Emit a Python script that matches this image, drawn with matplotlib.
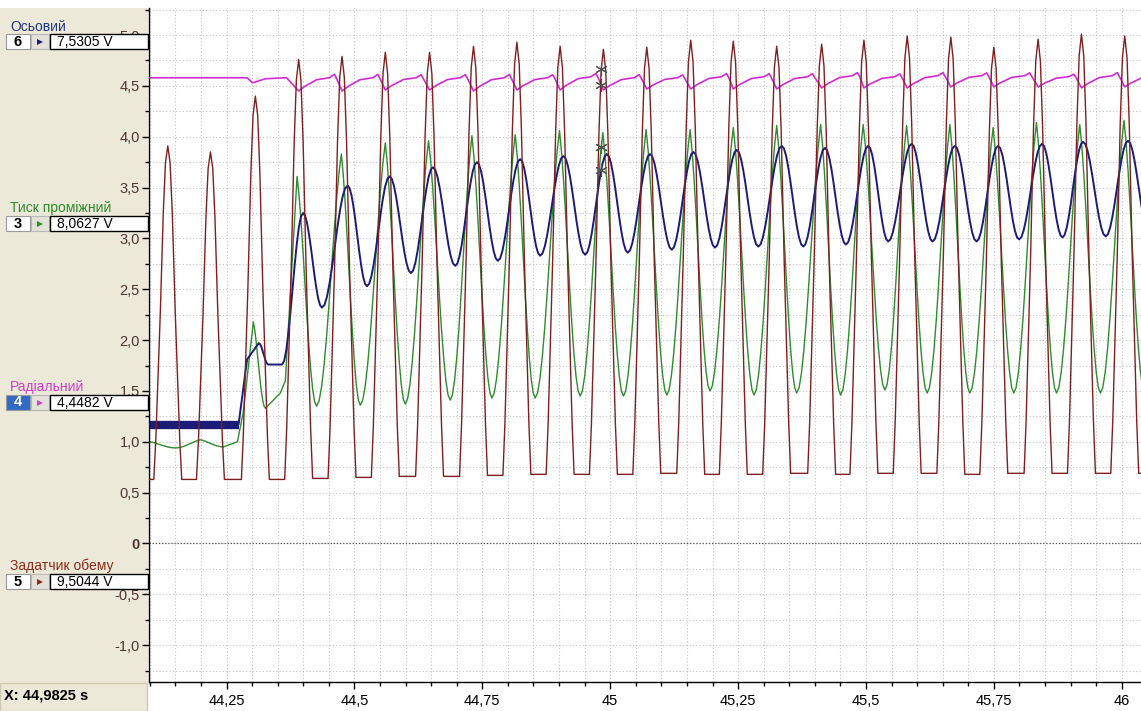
import numpy as np
import matplotlib
matplotlib.use('Agg')
import matplotlib.pyplot as plt
from matplotlib.patches import Rectangle

plt.rcParams['font.family'] = ['Liberation Sans', 'DejaVu Sans']

# Задатчик обему (brown): pulse peaks, and the flat floor before/after each pulse
brown_peak_t = [44.1352, 44.2186, 44.3064, 44.3910, 44.4758, 44.5604, 44.6469,
                44.7328, 44.8176, 44.9021, 44.9867, 45.0715, 45.1574, 45.2406,
                45.3254, 45.4133, 45.4959, 45.5805, 45.6658, 45.7498, 45.8363,
                45.9211, 46.0057]
brown_peak_v = [3.91, 3.85, 4.40, 4.76, 4.79, 4.83, 4.83, 4.89, 4.93, 4.89,
                4.86, 4.88, 4.95, 4.94, 4.89, 4.91, 4.95, 4.99, 4.98, 4.88,
                4.96, 5.01, 4.99]
brown_floor_v = [0.63, 0.63, 0.63, 0.63, 0.64, 0.65, 0.66, 0.66, 0.67, 0.68,
                 0.68, 0.68, 0.69, 0.68, 0.68, 0.69, 0.68, 0.69, 0.69, 0.68,
                 0.69, 0.69, 0.69, 0.69]

# Тиск проміжний (green): turning points
green_t = [44.1000, 44.1502, 44.1990, 44.2439, 44.2713, 44.2830, 44.3025,
           44.3260, 44.3553, 44.3650, 44.3879, 44.4260, 44.4744, 44.5115,
           44.5604, 44.5994, 44.6449, 44.6873, 44.7297, 44.7688, 44.8143,
           44.8533, 44.9008, 44.9412, 44.9856, 45.0258, 45.0701, 45.1106,
           45.1561, 45.1951, 45.2406, 45.2811, 45.3254, 45.3645, 45.4113,
           45.4504, 45.4945, 45.5369, 45.5793, 45.6195, 45.6639, 45.7029,
           45.7484, 45.7889, 45.8332, 45.8723, 45.9178, 45.9582, 46.0043,
           46.0447]
green_v = [1.00, 0.94, 1.02, 0.95, 1.00, 1.30, 2.18, 1.33, 1.48, 1.60,
           3.61, 1.35, 3.83, 1.36, 3.94, 1.37, 3.96, 1.41, 4.01, 1.43,
           4.02, 1.43, 4.06, 1.45, 4.04, 1.45, 4.07, 1.46, 4.07, 1.50,
           4.09, 1.46, 4.11, 1.48, 4.12, 1.46, 4.12, 1.51, 4.11, 1.48,
           4.12, 1.48, 4.09, 1.48, 4.14, 1.48, 4.12, 1.48, 4.16, 1.48]

# Осьовий (dark blue): turning points
blue_t = [44.1000, 44.2736, 44.2902, 44.3129, 44.3318, 44.3586, 44.3996,
          44.4367, 44.4867, 44.5246, 44.5688, 44.6105, 44.6535, 44.6971,
          44.7395, 44.7805, 44.8240, 44.8631, 44.9086, 44.9510, 44.9934,
          45.0344, 45.0779, 45.1203, 45.1625, 45.2049, 45.2473, 45.2895,
          45.3352, 45.3773, 45.4197, 45.4607, 45.5043, 45.5434, 45.5891,
          45.6301, 45.6736, 45.7160, 45.7582, 45.7992, 45.8441, 45.8840,
          45.9242, 45.9686, 46.0121, 46.0545]
blue_v = [1.17, 1.17, 1.81, 1.97, 1.76, 1.76, 3.25, 2.32, 3.52, 2.53,
          3.61, 2.66, 3.70, 2.73, 3.75, 2.78, 3.78, 2.83, 3.81, 2.84,
          3.83, 2.86, 3.83, 2.89, 3.85, 2.91, 3.87, 2.92, 3.91, 2.92,
          3.89, 2.94, 3.91, 2.97, 3.93, 2.97, 3.91, 2.97, 3.91, 2.99,
          3.93, 3.01, 3.95, 3.02, 3.96, 3.02]

# Радіальний (magenta): steady part, then one dip per brown pulse (from 4th pulse)
mag_pre_t = [44.1000, 44.2900, 44.3010, 44.3260, 44.3674]
mag_pre_v = [4.58, 4.58, 4.53, 4.57, 4.58]
mag_min_v = [4.45, 4.45, 4.46, 4.46, 4.45, 4.46, 4.46, 4.46, 4.47, 4.47,
             4.47, 4.47, 4.48, 4.48, 4.48, 4.49, 4.49, 4.49, 4.48, 4.49]
mag_max_v = [4.58, 4.58, 4.58, 4.58, 4.58, 4.58, 4.59, 4.58, 4.58, 4.59,
             4.59, 4.59, 4.60, 4.59, 4.60, 4.60, 4.60, 4.59, 4.60, 4.60]

cursor_t = 44.9825

# left panel: name, channel number, readout
channels = [
    ('Осьовий', '6', '7,5305 V', '#22348a', '#1c1c78'),
    ('Тиск проміжний', '3', '8,0627 V', '#2e8b2e', '#2e8b2e'),
    ('Радіальний', '4', '4,4482 V', '#d23cd2', '#d23cd2'),
    ('Задатчик обему', '5', '9,5044 V', '#8b2b1b', '#8b2b1b'),
]

x_ticks = [44.25, 44.5, 44.75, 45.0, 45.25, 45.5, 45.75, 46.0]
x_labels = ['44,25', '44,5', '44,75', '45', '45,25', '45,5', '45,75', '46']
y_ticks = [-1.0, -0.5, 0.0, 0.5, 1.0, 1.5, 2.0, 2.5, 3.0, 3.5, 4.0, 4.5, 5.0]
y_labels = ['-1,0', '-0,5', '0', '0,5', '1,0', '1,5', '2,0', '2,5', '3,0',
            '3,5', '4,0', '4,5', '5,0']

# ---- waveform shapes ---------------------------------------------------------
PULSE_DT = [-0.0273, -0.0234, -0.0146, -0.0088, -0.0045, 0.0]
PULSE_F = [0.0, 0.12, 0.5, 0.8, 0.95, 1.0]
STEPS = np.linspace(0.1, 1.0, 10)
# going up into a peak: green has round troughs and sharper tops
GREEN_UP = [0.02, 0.075, 0.16, 0.27, 0.40, 0.54, 0.68, 0.81, 0.92, 1.0]
BLUE_UP = [0.024, 0.095, 0.206, 0.345, 0.5, 0.655, 0.794, 0.905, 0.976, 1.0]
MAG_DT = [0.0, 0.012, 0.035, 0.060, 0.070, 0.074]
MAG_F = [0.0, 0.35, 0.85, 1.0, 1.25, 0.95]


def pulse_path(pt, pv, floors):
    ts, vs = [pt[0] - 0.05], [floors[0]]
    for i in range(len(pt)):
        lo, hi = floors[i], floors[i + 1]
        for dt, f in zip(PULSE_DT, PULSE_F):
            ts.append(pt[i] + dt)
            vs.append(lo + f * (pv[i] - lo))
        for dt, f in zip(PULSE_DT[-2::-1], PULSE_F[-2::-1]):
            ts.append(pt[i] - dt)
            vs.append(hi + f * (pv[i] - hi))
    ts.append(pt[-1] + 0.06)
    vs.append(floors[-1])
    return np.array(ts), np.array(vs)


def smooth_path(t, v, up):
    up = np.array(up)
    down = 1.0 - np.concatenate([up[-2::-1], [0.0]])
    n = len(v)
    ext = [i == 0 or i == n - 1 or (v[i] - v[i - 1]) * (v[i + 1] - v[i]) <= 0
           for i in range(n)]
    ts, vs = [t[0]], [v[0]]
    for i in range(n - 1):
        if ext[i] and ext[i + 1]:
            prof = up if v[i + 1] > v[i] else down
            for a, f in zip(STEPS, prof):
                ts.append(t[i] + a * (t[i + 1] - t[i]))
                vs.append(v[i] + f * (v[i + 1] - v[i]))
        else:
            ts.append(t[i + 1])
            vs.append(v[i + 1])
    return np.array(ts), np.array(vs)


def magenta_path():
    ts, vs = list(mag_pre_t), list(mag_pre_v)
    dips = brown_peak_t[3:]
    for i, tm in enumerate(dips):
        for dt, f in zip(MAG_DT, MAG_F):
            ts.append(tm + dt)
            vs.append(mag_min_v[i] + f * (mag_max_v[i] - mag_min_v[i]))
    return np.array(ts), np.array(vs)


bt, bv = pulse_path(brown_peak_t, brown_peak_v, brown_floor_v)
gt, gv = smooth_path(green_t, green_v, GREEN_UP)
nt, nv = smooth_path(blue_t, blue_v, BLUE_UP)
mt, mv = magenta_path()

# ---- figure --------------------------------------------------------------------
W, H = 1141, 711
fig = plt.figure(figsize=(W / 100, H / 100), dpi=100)
fig.patch.set_facecolor('white')

ax_bg = fig.add_axes([0, 0, 1, 1])
ax_bg.set_xlim(0, W)
ax_bg.set_ylim(H, 0)
ax_bg.axis('off')
ax_bg.set_zorder(0)
ax_bg.add_patch(Rectangle((0, 8), 148, 675, facecolor='#ece9d8', edgecolor='none'))

x0, x1, y0, y1 = 149, 1141, 8, 682
ax = fig.add_axes([x0 / W, (H - y1) / H, (x1 - x0) / W, (y1 - y0) / H])
ax.set_zorder(1)
ax.set_facecolor('white')
ax.set_xlim(44.0985, 46.0375)
ax.set_ylim(-1.362, 5.266)

ax.set_xticks(x_ticks, labels=x_labels)
ax.set_xticks(np.arange(44.10, 46.04, 0.05), minor=True)
ax.set_yticks(y_ticks, labels=y_labels)
ax.set_yticks(np.arange(-1.25, 5.3, 0.25), minor=True)
for lab in ax.get_yticklabels():
    if lab.get_text() == '0':
        lab.set_fontweight('bold')
        lab.set_color('#9a2a9a')

ax.tick_params(axis='both', which='major', length=5, width=1, color='black',
               labelsize=10.5)
ax.tick_params(axis='both', which='minor', length=3, width=1, color='black')
ax.tick_params(axis='y', pad=1.5, labelcolor='#503434')
ax.tick_params(axis='x', pad=3.5, labelcolor='black')

ax.grid(which='both', color='#c4c4c4', linestyle=(0, (1, 2)), linewidth=0.8)
ax.set_axisbelow(True)
ax.axhline(0, color='#555555', linestyle=(0, (1, 1.5)), linewidth=0.9, zorder=1)
for side in ('top', 'right'):
    ax.spines[side].set_visible(False)
for side in ('left', 'bottom'):
    ax.spines[side].set_color('black')
    ax.spines[side].set_linewidth(1)

ax.plot(gt, gv, color='#2e8b2e', lw=1.0, zorder=2)
ax.plot(blue_t[:2], blue_v[:2], color='#1c1c78', lw=6.0, zorder=3,
        solid_capstyle='butt')
ax.plot(nt, nv, color='#1c1c78', lw=1.4, zorder=3)
ax.plot(mt, mv, color='#d42ad4', lw=1.2, zorder=3)
ax.plot(bt, bv, color='#7f1f1f', lw=1.0, zorder=4)

# cursor marks on each trace
for tt, vv in ((bt, bv), (mt, mv), (gt, gv), (nt, nv)):
    ax.plot([cursor_t], [np.interp(cursor_t, tt, vv)], marker=(6, 2, 0),
            ms=9, mew=0.8, color='#505050', zorder=6)

# ---- left panel overlay ----------------------------------------------------------
ov = fig.add_axes([0, 0, 1, 1])
ov.set_xlim(0, W)
ov.set_ylim(H, 0)
ov.axis('off')
ov.set_zorder(2)
ov.patch.set_visible(False)

rows = [(27, 34), (208, 216), (387, 395), (566, 574)]
for (name, num, val, tcol, mcol), (ly, by) in zip(channels, rows):
    ov.text(10, ly, name, fontsize=10, color=tcol, va='center', ha='left')
    selected = num == '4'
    ov.add_patch(Rectangle((6, by), 24, 15,
                           facecolor='#316ac5' if selected else 'white',
                           edgecolor='#9a9a9a', lw=0.8))
    ov.text(18, by + 7.5, num, fontsize=10.5, fontweight='bold',
            color='white' if selected else 'black', ha='center', va='center')
    ov.add_patch(Rectangle((31, by), 18, 15, facecolor='#e4e2d8',
                           edgecolor='#b8b8b8', lw=0.8))
    ov.plot([40], [by + 7.5], marker='>', ms=4.5, color=mcol, mew=0)
    ov.add_patch(Rectangle((50, by), 98, 15, facecolor='white',
                           edgecolor='black', lw=1.0))
    ov.text(57, by + 7.8, val, fontsize=10, color='black', va='center', ha='left')

ov.add_patch(Rectangle((0, 683), 147, 28, facecolor='#ece9d8',
                       edgecolor='#cfcab4', lw=1.0))
ov.text(4, 696, 'X: 44,9825 s', fontsize=10.5, fontweight='bold',
        color='black', va='center', ha='left')

fig.savefig('out.png', dpi=100, facecolor='white')
